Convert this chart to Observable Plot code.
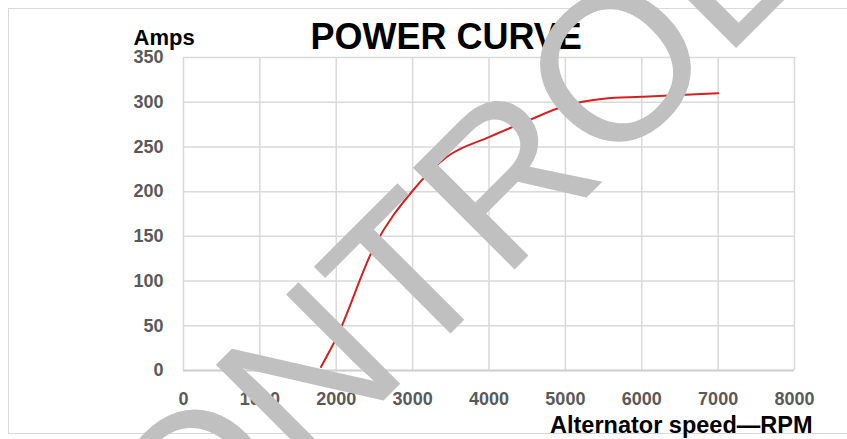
<!DOCTYPE html>
<html>
<head>
<meta charset="utf-8">
<script src="https://cdn.jsdelivr.net/npm/d3@7"></script>
<script src="https://cdn.jsdelivr.net/npm/@observablehq/plot@0.6"></script>
<style>
  html, body { margin: 0; padding: 0; background: #fff; }
  #wrap { position: relative; width: 847px; height: 439px; overflow: hidden; }
  #border { position: absolute; left: 8px; top: 8px; width: 860px; height: 426px; border: 1.5px solid #d9d9d9; box-sizing: border-box; }
  #chart { position: absolute; left: 0; top: 0; }
  #wm { position: absolute; left: 0; top: 0; pointer-events: none; }
</style>
</head>
<body>
<div id="wrap">
  <div id="border"></div>
  <div id="chart"></div>
  <svg id="wm" width="847" height="439"></svg>
</div>
<script>
// Data
const rpm  = [1800, 2000, 2500, 3000, 3450, 4000, 4500, 5000, 5500, 6000, 6500, 7000];
const amps = [4, 36, 139, 201, 239, 261, 279, 296, 304, 306, 308, 310];
const xTicks = [0, 1000, 2000, 3000, 4000, 5000, 6000, 7000, 8000];
const yTicks = [0, 50, 100, 150, 200, 250, 300, 350];
const titleText = "POWER CURVE";
const yTitle = "Amps";
const xTitle = "Alternator speed\u2014RPM";
const watermark = "CONTROL";

const data = rpm.map((r, i) => ({rpm: r, amps: amps[i]}));
const font = "'Liberation Sans', Arial, sans-serif";

const chart = Plot.plot({
  width: 847,
  height: 439,
  marginLeft: 183,
  marginRight: 53,
  marginTop: 57,
  marginBottom: 69,
  style: {fontFamily: font, background: "transparent", overflow: "visible"},
  x: {domain: [0, 8000], ticks: xTicks, label: null},
  y: {domain: [0, 350], ticks: yTicks, label: null},
  marks: [
    Plot.gridX(xTicks, {stroke: "#d9d9d9", strokeOpacity: 1, strokeWidth: 1.5}),
    Plot.gridY(yTicks, {stroke: "#d9d9d9", strokeOpacity: 1, strokeWidth: 1.5}),
    Plot.ruleY([0], {stroke: "#d0d0d0", strokeWidth: 2}),
    Plot.line(data, {x: "rpm", y: "amps", stroke: "#d42020", strokeWidth: 2, curve: "monotone-x"}),
    Plot.axisX(xTicks, {tickSize: 0, tickPadding: 22, fontSize: 18, fontWeight: "bold", fill: "#595959", tickFormat: d => String(d)}),
    Plot.axisY(yTicks, {tickSize: 0, tickPadding: 20, fontSize: 18, fontWeight: "bold", fill: "#595959", tickFormat: d => String(d)}),
    Plot.text([titleText], {frameAnchor: "top-left", dx: 127, dy: -9, textAnchor: "start", lineAnchor: "bottom", fontSize: 36, fontWeight: "bold", fill: "#000"}),
    Plot.text([yTitle], {frameAnchor: "top-left", dx: -50, dy: -13, textAnchor: "start", lineAnchor: "bottom", fontSize: 22, fontWeight: "bold", fill: "#000"}),
    Plot.text([xTitle], {frameAnchor: "bottom-right", dx: 18, dy: 62, textAnchor: "end", lineAnchor: "bottom", fontSize: 23.5, fontWeight: "bold", fill: "#000"})
  ]
});
document.getElementById("chart").appendChild(chart);

// Watermark overlay
const wm = d3.select("#wm");
wm.append("text")
  .attr("x", 445).attr("y", 339)
  .attr("transform", "rotate(-45 445 339)")
  .attr("text-anchor", "middle")
  .attr("font-family", font)
  .attr("font-size", 209)
  .attr("fill", "#c0c0c0")
  .text(watermark);
</script>
</body>
</html>
